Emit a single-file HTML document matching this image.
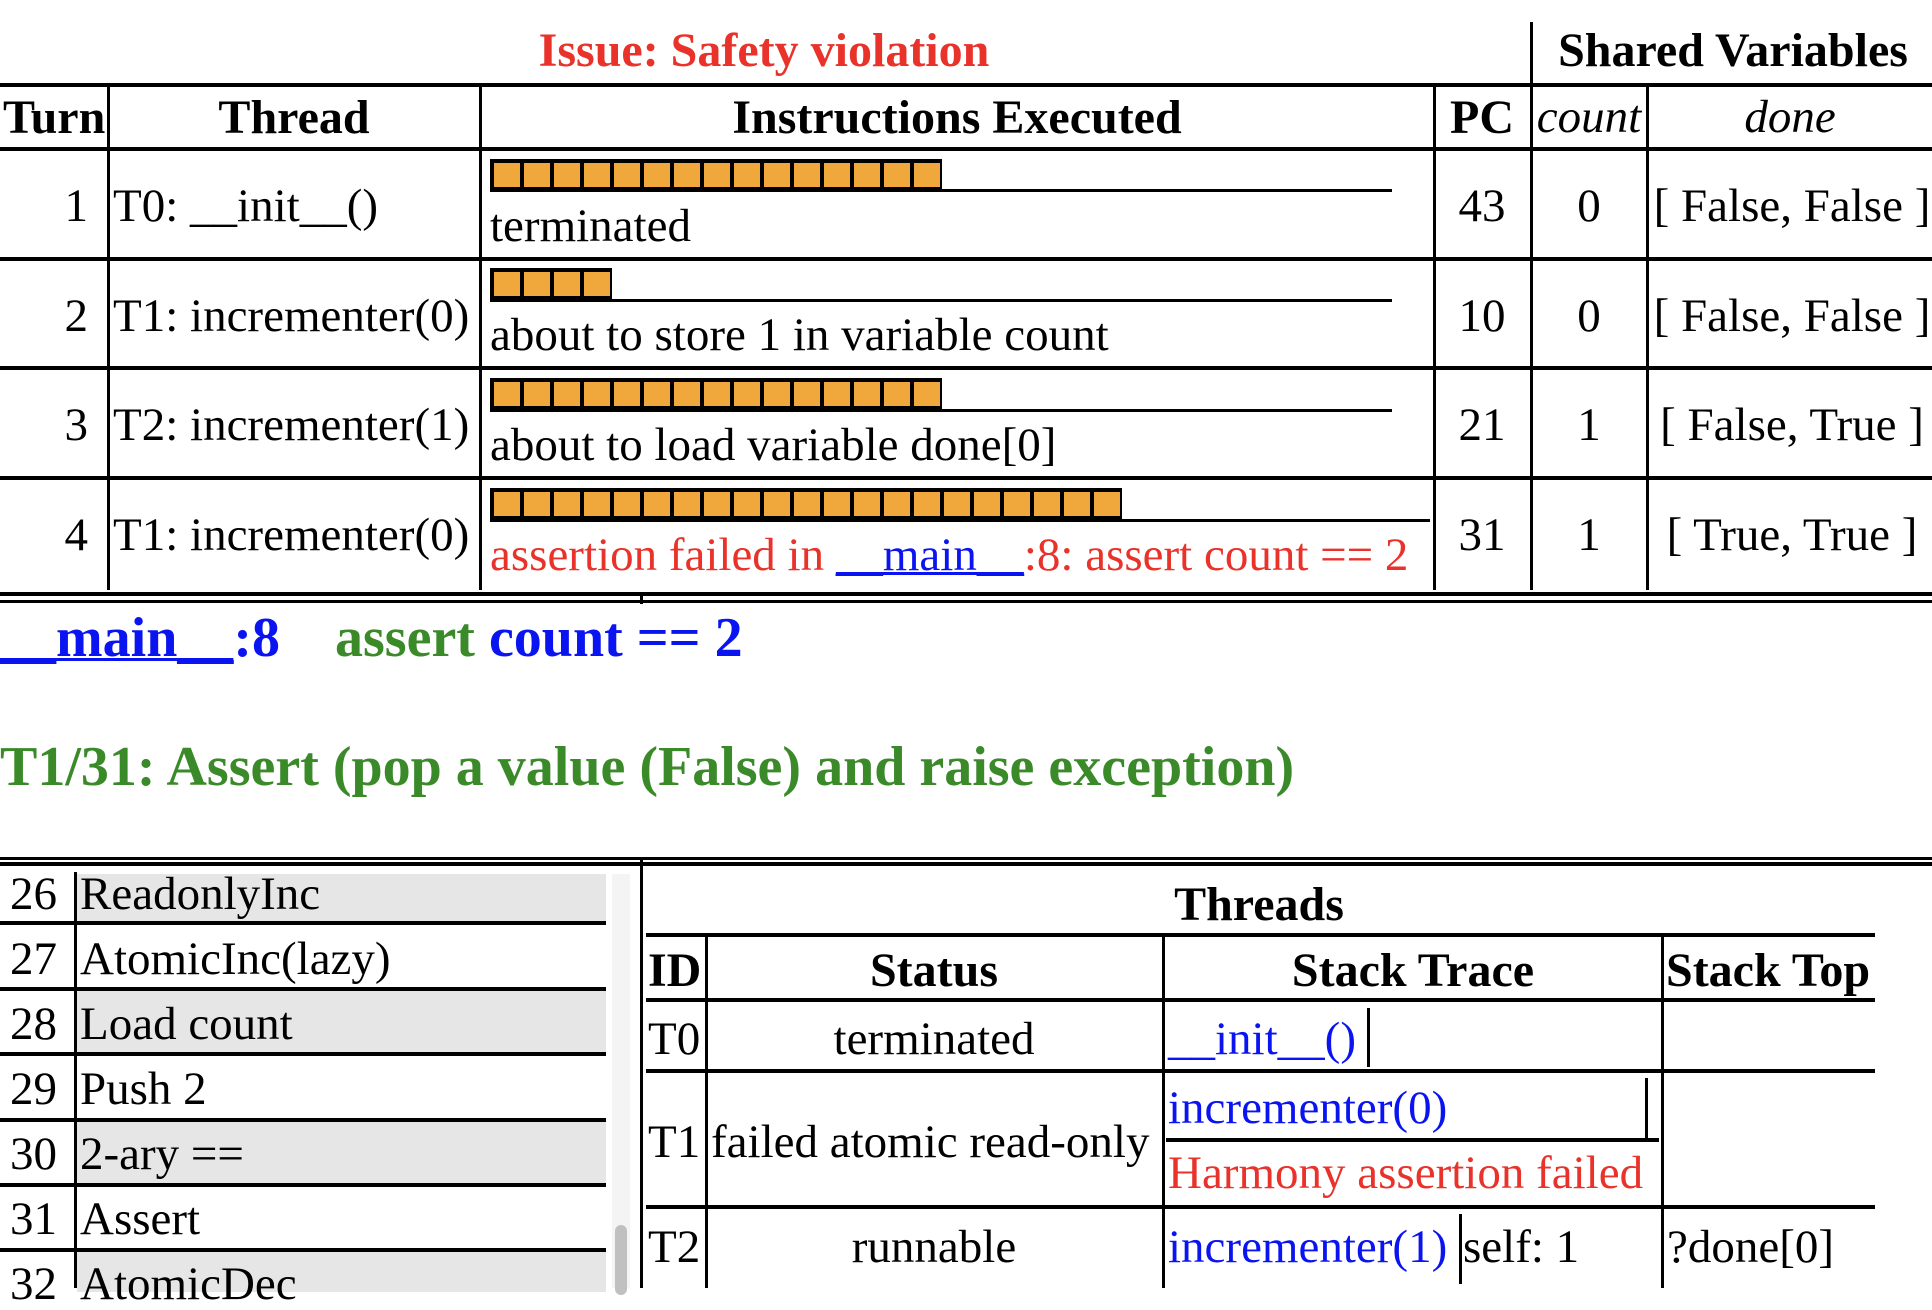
<!DOCTYPE html>
<html><head><meta charset="utf-8"><style>
body{margin:0;width:1932px;height:1288px;position:relative;overflow:hidden;background:#fff;font-family:"Liberation Serif",serif;font-size:47px;color:#000}
.a{position:absolute;white-space:nowrap;line-height:1;margin-top:-3px}
.h{position:absolute;background:#000}
.c{transform:translateX(-50%)}
.b{font-weight:bold;font-size:48px}
.bar{position:absolute;height:24px;border-top:4px solid #000;border-bottom:4px solid #000;background:repeating-linear-gradient(to right,#000 0 4px,#f0a83c 4px 30px)}
.red{color:#e8322a}.blue{color:#0a14f0}.green{color:#3a8a2a}
u{text-decoration-thickness:3px}
.gray{position:absolute;background:#e6e6e6}
.big{font-size:56px;margin-top:-3px}
</style></head><body>
<div class="a b red c" style="left:764px;top:30px">Issue: Safety violation</div>
<div class="h" style="left:1530px;top:22px;width:3px;height:62px"></div>
<div class="a b c" style="left:1733px;top:30px">Shared Variables</div>
<div class="h" style="left:0;top:83px;width:1932px;height:4px"></div>
<div class="h" style="left:0;top:147px;width:1932px;height:4px"></div>
<div class="h" style="left:0;top:257px;width:1932px;height:4px"></div>
<div class="h" style="left:0;top:366px;width:1932px;height:4px"></div>
<div class="h" style="left:0;top:476px;width:1932px;height:4px"></div>
<div class="h" style="left:0;top:592px;width:1932px;height:4px"></div>
<div class="h" style="left:0;top:600px;width:1932px;height:3px"></div>
<div class="h" style="left:640px;top:594px;width:3px;height:10px"></div>
<div class="h" style="left:107px;top:85px;width:3px;height:505px"></div>
<div class="h" style="left:479px;top:85px;width:3px;height:505px"></div>
<div class="h" style="left:1433px;top:85px;width:3px;height:505px"></div>
<div class="h" style="left:1530px;top:85px;width:3px;height:505px"></div>
<div class="h" style="left:1646px;top:85px;width:3px;height:505px"></div>
<div class="a b" style="left:3px;top:97px">Turn</div>
<div class="a b c" style="left:294px;top:97px">Thread</div>
<div class="a b c" style="left:957px;top:97px">Instructions Executed</div>
<div class="a b c" style="left:1482px;top:97px">PC</div>
<div class="a c" style="left:1589px;top:97px;font-style:italic">count</div>
<div class="a c" style="left:1790px;top:97px;font-style:italic">done</div>

<div class="a" style="right:1844px;top:186px">1</div>
<div class="a" style="left:113px;top:186px">T0: __init__()</div>
<div class="bar" style="left:490px;top:159px;width:452px"></div>
<div class="h" style="left:490px;top:189px;width:902px;height:3px"></div>
<div class="a" style="left:490px;top:206px">terminated</div>
<div class="a c" style="left:1482px;top:186px">43</div>
<div class="a c" style="left:1589px;top:186px">0</div>
<div class="a c" style="left:1792px;top:186px">[ False, False ]</div>

<div class="a" style="right:1844px;top:296px">2</div>
<div class="a" style="left:113px;top:296px">T1: incrementer(0)</div>
<div class="bar" style="left:490px;top:268px;width:122px"></div>
<div class="h" style="left:490px;top:299px;width:902px;height:3px"></div>
<div class="a" style="left:490px;top:315px">about to store 1 in variable count</div>
<div class="a c" style="left:1482px;top:296px">10</div>
<div class="a c" style="left:1589px;top:296px">0</div>
<div class="a c" style="left:1792px;top:296px">[ False, False ]</div>

<div class="a" style="right:1844px;top:405px">3</div>
<div class="a" style="left:113px;top:405px">T2: incrementer(1)</div>
<div class="bar" style="left:490px;top:378px;width:452px"></div>
<div class="h" style="left:490px;top:409px;width:902px;height:3px"></div>
<div class="a" style="left:490px;top:425px">about to load variable done[0]</div>
<div class="a c" style="left:1482px;top:405px">21</div>
<div class="a c" style="left:1589px;top:405px">1</div>
<div class="a c" style="left:1792px;top:405px">[ False, True ]</div>

<div class="a" style="right:1844px;top:515px">4</div>
<div class="a" style="left:113px;top:515px">T1: incrementer(0)</div>
<div class="bar" style="left:490px;top:488px;width:632px"></div>
<div class="h" style="left:490px;top:519px;width:940px;height:3px"></div>
<div class="a red" style="left:490px;top:535px">assertion failed in <u class="blue">__main__</u>:8: assert count == 2</div>
<div class="a c" style="left:1482px;top:515px">31</div>
<div class="a c" style="left:1589px;top:515px">1</div>
<div class="a c" style="left:1792px;top:515px">[ True, True ]</div>

<div class="a b blue big" style="left:0;top:613px"><u>__main__</u>:8</div>
<div class="a b big" style="left:335px;top:613px"><span class="green">assert</span> <span class="blue">count == 2</span></div>
<div class="a b green big" style="left:0;top:742px">T1/31: Assert (pop a value (False) and raise exception)</div>

<div class="h" style="left:0;top:857px;width:1932px;height:3px"></div>
<div class="h" style="left:0;top:862px;width:1932px;height:4px"></div>
<div class="h" style="left:640px;top:857px;width:3px;height:431px"></div>

<div class="gray" style="left:77px;top:874px;width:529px;height:48px"></div>
<div class="gray" style="left:77px;top:991px;width:529px;height:62px"></div>
<div class="gray" style="left:77px;top:1122px;width:529px;height:62px"></div>
<div class="gray" style="left:77px;top:1252px;width:529px;height:40px"></div>
<div class="h" style="left:74px;top:872px;width:3px;height:416px"></div>
<div class="h" style="left:0;top:921px;width:606px;height:4px"></div>
<div class="h" style="left:0;top:987px;width:606px;height:4px"></div>
<div class="h" style="left:0;top:1052px;width:606px;height:4px"></div>
<div class="h" style="left:0;top:1118px;width:606px;height:4px"></div>
<div class="h" style="left:0;top:1183px;width:606px;height:4px"></div>
<div class="h" style="left:0;top:1248px;width:606px;height:4px"></div>
<div class="a" style="left:10px;top:874px">26</div><div class="a" style="left:80px;top:874px">ReadonlyInc</div>
<div class="a" style="left:10px;top:939px">27</div><div class="a" style="left:80px;top:939px">AtomicInc(lazy)</div>
<div class="a" style="left:10px;top:1004px">28</div><div class="a" style="left:80px;top:1004px">Load count</div>
<div class="a" style="left:10px;top:1069px">29</div><div class="a" style="left:80px;top:1069px">Push 2</div>
<div class="a" style="left:10px;top:1134px">30</div><div class="a" style="left:80px;top:1134px">2-ary ==</div>
<div class="a" style="left:10px;top:1199px">31</div><div class="a" style="left:80px;top:1199px">Assert</div>
<div class="a" style="left:10px;top:1264px">32</div><div class="a" style="left:80px;top:1264px">AtomicDec</div>
<div style="position:absolute;left:612px;top:874px;width:18px;height:414px;background:#f4f4f4"></div>
<div style="position:absolute;left:615px;top:1225px;width:12px;height:70px;background:#c0c0c0;border-radius:6px"></div>

<div class="a b c" style="left:1259px;top:884px">Threads</div>
<div class="h" style="left:646px;top:933px;width:1229px;height:4px"></div>
<div class="h" style="left:646px;top:998px;width:1229px;height:4px"></div>
<div class="h" style="left:646px;top:1069px;width:1229px;height:4px"></div>
<div class="h" style="left:646px;top:1205px;width:1229px;height:4px"></div>
<div class="h" style="left:705px;top:935px;width:3px;height:353px"></div>
<div class="h" style="left:1162px;top:935px;width:3px;height:353px"></div>
<div class="h" style="left:1661px;top:935px;width:3px;height:353px"></div>
<div class="a b" style="left:648px;top:950px">ID</div>
<div class="a b c" style="left:934px;top:950px">Status</div>
<div class="a b c" style="left:1413px;top:950px">Stack Trace</div>
<div class="a b" style="left:1666px;top:950px">Stack Top</div>
<div class="a" style="left:648px;top:1019px">T0</div>
<div class="a c" style="left:934px;top:1019px">terminated</div>
<div class="a blue" style="left:1168px;top:1019px">__init__()</div>
<div class="h" style="left:1367px;top:1008px;width:3px;height:59px"></div>
<div class="a" style="left:648px;top:1122px">T1</div>
<div class="a" style="left:711px;top:1122px">failed atomic read-only</div>
<div class="a blue" style="left:1168px;top:1088px">incrementer(0)</div>
<div class="h" style="left:1645px;top:1078px;width:3px;height:60px"></div>
<div class="h" style="left:1166px;top:1138px;width:493px;height:4px"></div>
<div class="a red" style="left:1168px;top:1153px">Harmony assertion failed</div>
<div class="a" style="left:648px;top:1227px">T2</div>
<div class="a c" style="left:934px;top:1227px">runnable</div>
<div class="a blue" style="left:1168px;top:1227px">incrementer(1)</div>
<div class="h" style="left:1459px;top:1214px;width:3px;height:70px"></div>
<div class="a" style="left:1463px;top:1227px">self: 1</div>
<div class="a" style="left:1667px;top:1227px">?done[0]</div>
</body></html>
